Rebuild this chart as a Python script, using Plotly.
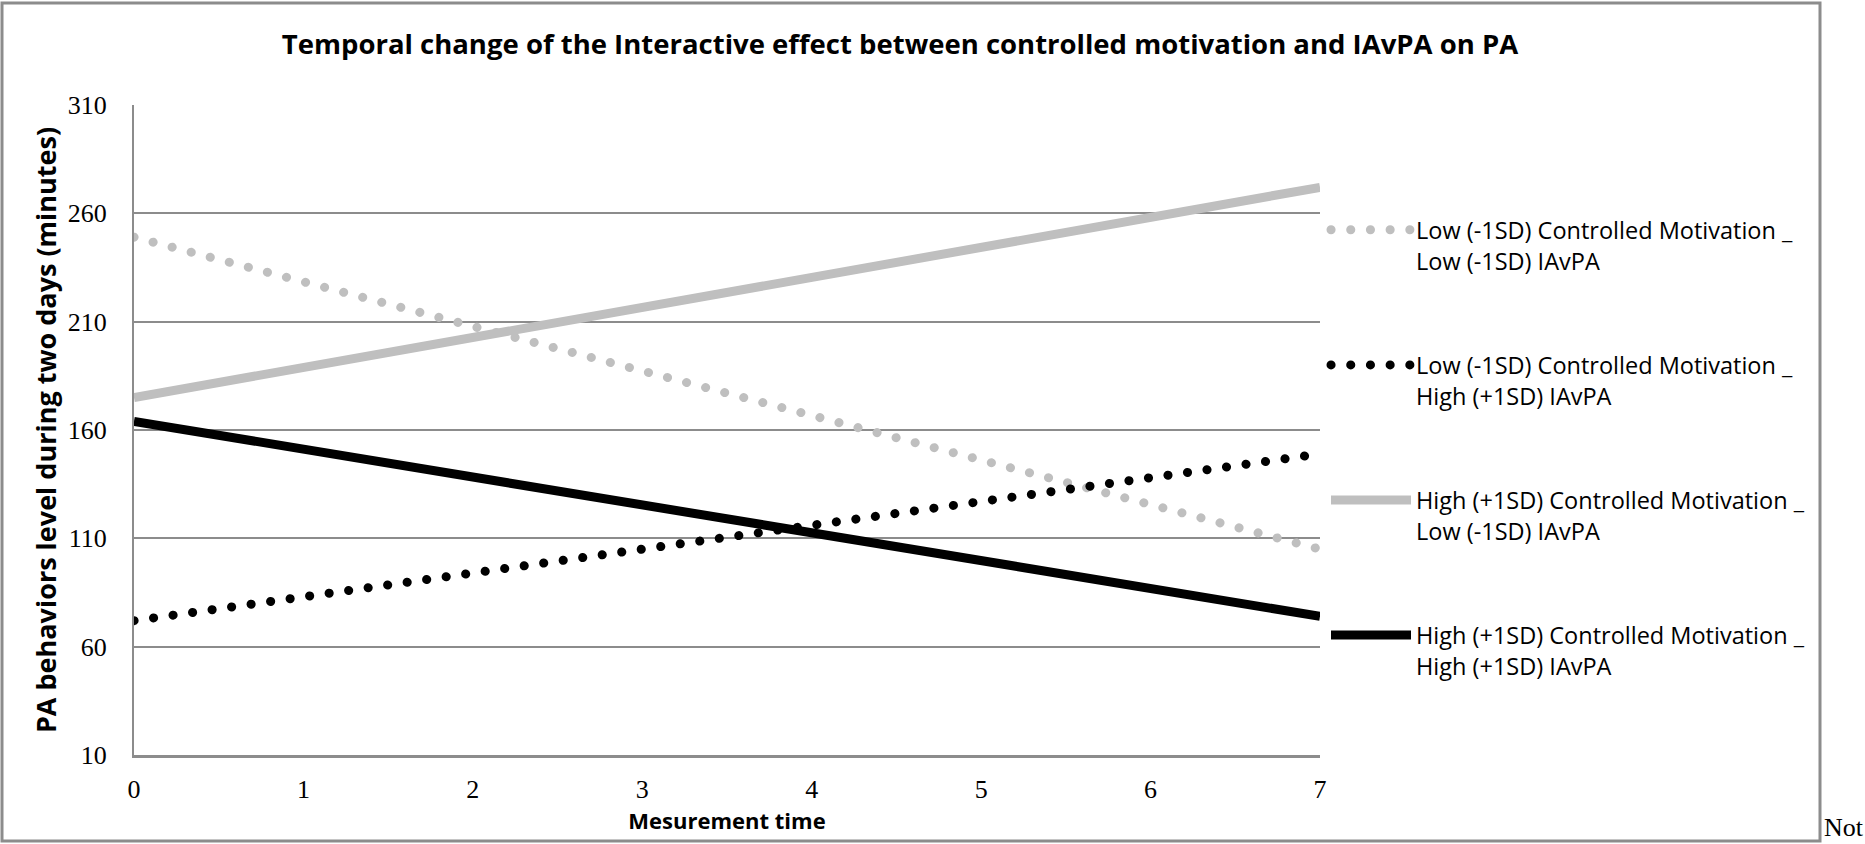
import plotly.graph_objects as go

# Measurement occasions (start and end of the simple-slope lines)
time_points = [0, 7]

# Predicted PA minutes for each moderator combination
low_cm_low_iavpa = [249, 105]
low_cm_high_iavpa = [72, 149]
high_cm_low_iavpa = [175, 272]
high_cm_high_iavpa = [164, 74]

series_names = [
    "Low (-1SD) Controlled Motivation _<br>Low (-1SD) IAvPA",
    "Low (-1SD) Controlled Motivation _<br>High (+1SD) IAvPA",
    "High (+1SD) Controlled Motivation _<br>Low (-1SD) IAvPA",
    "High (+1SD) Controlled Motivation _<br>High (+1SD) IAvPA",
]

y_ticks = [10, 60, 110, 160, 210, 260, 310]
x_ticks = [0, 1, 2, 3, 4, 5, 6, 7]

LIGHT = "#BFBFBF"
DARK = "#000000"
GRID = "#8C8C8C"
SANS = "Open Sans"
SERIF = "Liberation Serif"

W, H = 1865, 844
M_L, M_R, M_T, M_B = 134, 545, 105, 89
PW = W - M_L - M_R
PH = H - M_T - M_B


def px(x):
    return (x - M_L) / PW


def py(y):
    return (H - M_B - y) / PH


fig = go.Figure()
styles = [
    (low_cm_low_iavpa, LIGHT, "dot"),
    (low_cm_high_iavpa, DARK, "dot"),
    (high_cm_low_iavpa, LIGHT, "solid"),
    (high_cm_high_iavpa, DARK, "solid"),
]
for i, (vals, color, dash) in enumerate(styles):
    fig.add_trace(go.Scatter(
        x=time_points, y=vals, mode="lines", name=series_names[i],
        legendgroup=f"g{i}",
        line=dict(color=color, width=9, dash=dash),
        hoverinfo="skip",
    ))

fig.update_layout(
    width=W, height=H,
    margin=dict(l=M_L, r=M_R, t=M_T, b=M_B, autoexpand=False),
    paper_bgcolor="white", plot_bgcolor="white",
    title=dict(
        text="<b>Temporal change of the Interactive effect between controlled motivation and IAvPA on PA</b>",
        font=dict(family=SANS, size=27.5, color="black"),
        x=px(900), xanchor="center", xref="paper",
        y=1 - 44 / H, yanchor="middle", yref="container",
    ),
    xaxis=dict(
        range=[0, 7], tickvals=x_ticks, showgrid=False, zeroline=False,
        showline=True, linecolor=GRID, linewidth=3,
        ticks="", ticklabelstandoff=9,
        tickfont=dict(family=SERIF, size=26, color="black"),
        title=dict(text="<b>Mesurement time</b>", standoff=11,
                   font=dict(family=SANS, size=22, color="black")),
    ),
    yaxis=dict(
        range=[10, 310], tickvals=y_ticks, showgrid=True, gridcolor=GRID, gridwidth=2,
        zeroline=False, showline=True, linecolor=GRID, linewidth=2,
        ticks="", ticklabelstandoff=20,
        tickfont=dict(family=SERIF, size=26, color="black"),
        title=dict(text="<b>PA behaviors level during two days (minutes)</b>", standoff=3,
                   font=dict(family=SANS, size=27, color="black")),
    ),
    legend=dict(
        x=px(1326), xanchor="left", y=py(208), yanchor="top",
        font=dict(family=SANS, size=23.5, color="black"),
        traceorder="grouped", tracegroupgap=71, valign="top",
        itemwidth=80, bgcolor="rgba(0,0,0,0)",
    ),
    shapes=[dict(
        type="rect", xref="paper", yref="paper",
        x0=px(2), x1=px(1820), y0=py(841), y1=py(3),
        line=dict(color=GRID, width=3), fillcolor="rgba(0,0,0,0)", layer="below",
    )],
    annotations=[dict(
        text="Not", xref="paper", yref="paper", x=px(1822), y=py(844),
        xanchor="left", yanchor="bottom", showarrow=False,
        font=dict(family=SERIF, size=26, color="black"),
    )],
)

# Round dotted strokes for the dotted series and their legend keys
post = """
var gd = document.getElementById('{plot_id}');
gd.querySelectorAll('path.js-line').forEach(function(p){
  var da = p.style.strokeDasharray;
  if (da && da !== 'none') {
    p.style.strokeLinecap = 'round';
    p.style.strokeDasharray = '0.1px,19.6px';
  }
});
"""
fig.write_html("out.html", post_script=post)
